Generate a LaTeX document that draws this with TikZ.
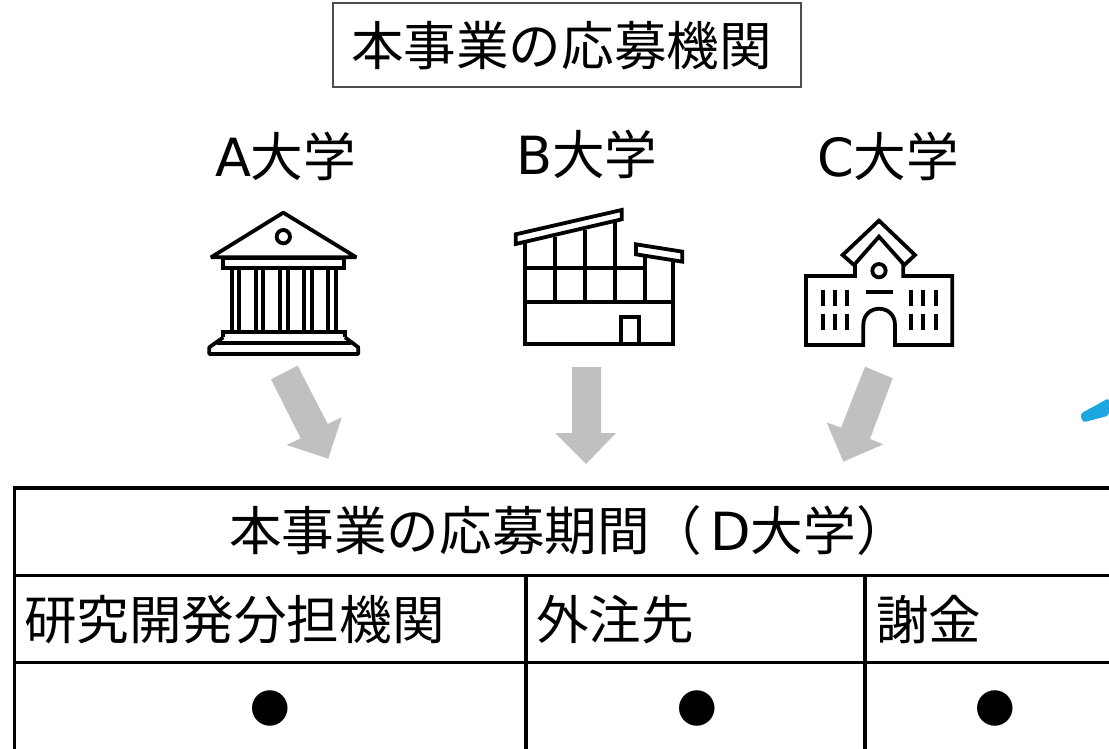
\documentclass[tikz,border=0pt]{standalone}
\usepackage{fontspec}
\setmainfont{Noto Sans CJK JP}
\newfontfamily\latinfont{DejaVu Sans}
\definecolor{arrowgray}{HTML}{C0C0C0}
\definecolor{skyline}{HTML}{1CA7E0}
\tikzset{
  txt/.style={anchor=base west,inner sep=0pt,outer sep=0pt,font=\fontsize{52.6}{60}\selectfont},
  dot/.style={anchor=center,inner sep=0pt,outer sep=0pt,font=\fontsize{39.5}{45}\selectfont},
  icon/.style={draw=black,line width=3.8pt,line join=miter,fill=none},
  grid/.style={draw=black,line width=3.6pt},
  blockarrow/.style={fill=arrowgray,draw=none}
}
\begin{document}
\begin{tikzpicture}[x=1pt,y=-1pt]
\useasboundingbox (0,0) rectangle (1109,749);
\clip (0,0) rectangle (1109,749);
% title
\draw[draw=black!70,line width=1.5pt] (333,3) rectangle (801,87);
\node[txt] (title) at (351,66) {本事業の応募機関};
\node[txt] (uA) at (215,176) {{\latinfont A}大学};
\node[txt] (uB) at (516,175) {{\latinfont B}大学};
\node[txt] (uC) at (817,176) {{\latinfont C}大学};
% temple
\begin{scope}[shift={(190,200)},x=0.3333pt,y=-0.3333pt,icon]
\draw[line join=bevel] (280,38) -- (499,172) -- (63,172) -- cycle;
\draw (280,110) circle (20);
\draw (100,175) rectangle (463,203);
\foreach \c in {125,148,197,220,270,293,342,365,413,437} \draw (\c,203) -- (\c,397);
\draw (100,412) -- (100,397) -- (465,397) -- (465,412);
\draw[line join=bevel] (100,412) -- (58,442) -- (58,462) -- (505,462) -- (505,442) -- (465,412);
\draw (82,428) -- (483,428);
\end{scope}
% modern building
\begin{scope}[shift={(500,200)},x=0.3333pt,y=-0.3333pt,icon]
\draw (47,103) -- (365,30) -- (365,58) -- (47,132) -- cycle;
\draw (408,133) -- (547,155) -- (547,185) -- (408,163) -- cycle;
\draw (75,125) -- (75,432) -- (520,432) -- (520,180);
\foreach \c/\t in {165/110,255/90,345/65} \draw (\c,\t) -- (\c,305);
\draw (435,170) -- (435,305);
\draw (75,203) -- (435,203);
\draw (75,305) -- (520,305);
\draw (362,432) -- (362,352) -- (417,352) -- (417,432);
\end{scope}
% school
\begin{scope}[shift={(795,210)},x=0.3333pt,y=-0.3333pt,icon]
\draw (252,32) -- (360,135) -- (328,165) -- (252,80) -- (177,165) -- (143,135) -- cycle;
\draw (180,158) -- (180,198) -- (33,198) -- (33,405) -- (205,405) -- (205,345)
  .. controls (205,280) and (300,280) .. (300,345) -- (300,405) -- (472,405) -- (472,198) -- (325,198) -- (325,158);
\draw (252,182) circle (20);
\draw (212,245) -- (295,245);
\foreach \c in {83,119,155,348,385,422} {
  \draw (\c,240) -- (\c,288);
  \draw (\c,312) -- (\c,360);
}
\end{scope}
% arrows
\fill[blockarrow] (271,379.3) -- (297.7,365.7) -- (327.7,424) -- (341.7,417.3) -- (328.3,458.7) -- (286.7,445) -- (300.7,438.3) -- cycle;
\fill[blockarrow] (572,367) -- (601,367) -- (601,433) -- (616,433) -- (586,464) -- (555,433) -- (572,433) -- cycle;
\fill[blockarrow] (865,366.7) -- (892.7,378.3) -- (870,439) -- (883.3,444.3) -- (843.3,461.7) -- (826.7,422.3) -- (841,427.7) -- cycle;
% blue fragment
\fill[skyline,rounded corners=3pt] (1109,398) -- (1080,414) -- (1083,422.5) -- (1109,415.5) -- cycle;
% table
\draw[grid] (14.5,749) -- (14.5,488) -- (1109,488);
\draw[grid] (15,575.5) -- (1109,575.5);
\draw[grid] (15,662.5) -- (1109,662.5);
\draw[grid] (526,575) -- (526,749);
\draw[grid] (865,575) -- (865,749);
\node[txt] (head) at (229,550) {本事業の応募期間（\hspace{8pt}{\latinfont D}大学）};
\node[txt] (c1) at (24,639) {研究開発分担機関};
\node[txt] (c2) at (536,639) {外注先};
\node[txt] (c3) at (876,639) {謝金};
\node[dot] (d1) at (270,708) {●};
\node[dot] (d2) at (697,708) {●};
\node[dot] (d3) at (995,708) {●};
\end{tikzpicture}
\end{document}
